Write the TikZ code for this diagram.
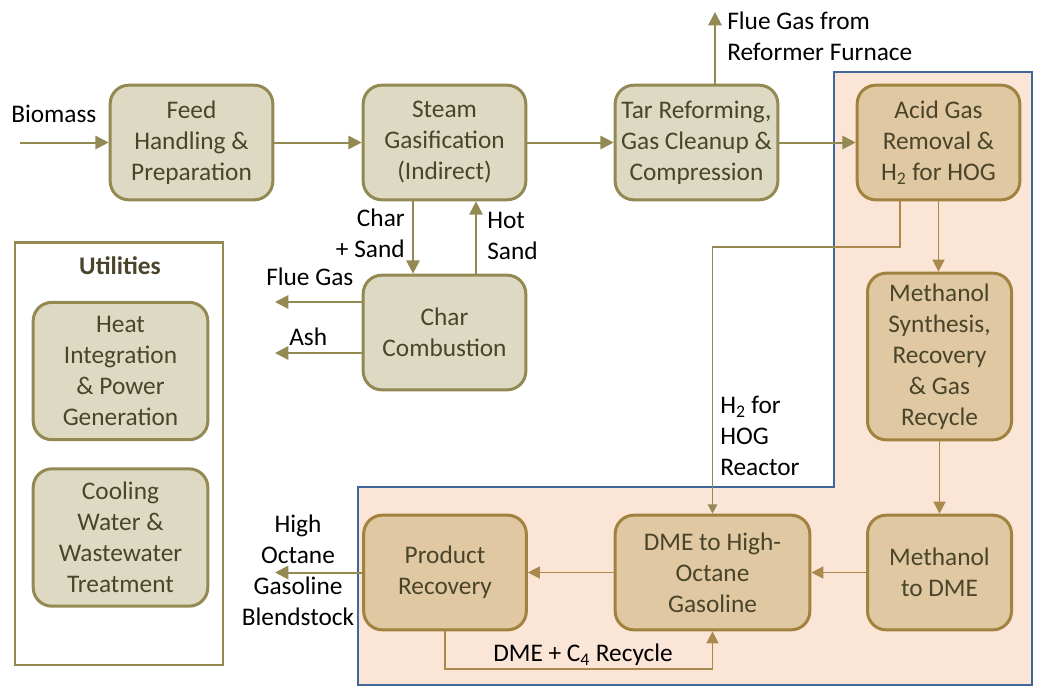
\documentclass[tikz,border=0pt]{standalone}
\usepackage{fontspec}
\setmainfont{Carlito}
\usetikzlibrary{arrows.meta}
\definecolor{boxfill}{HTML}{DDD9C3}
\definecolor{boxline}{HTML}{938953}
\definecolor{dboxfill}{HTML}{DFC8A2}
\definecolor{dboxline}{HTML}{A2823F}
\definecolor{salmon}{HTML}{FBE5D6}
\definecolor{blueline}{HTML}{41679A}
\definecolor{boxtext}{HTML}{4A452A}
\definecolor{arr}{HTML}{938953}
\definecolor{iarr}{HTML}{AA8A4C}
\begin{document}
\begin{tikzpicture}[x=0.75pt,y=-0.75pt,
  proc/.style={draw=boxline, fill=boxfill, line width=2.25pt, rounded corners=14pt,
    align=center, text=boxtext, font=\fontsize{19}{23.25}\selectfont, inner sep=0pt,
    minimum width=122pt, minimum height=86pt},
  dproc/.style={proc, draw=dboxline, fill=dboxfill},
  flow/.style={draw=arr, line width=1.5pt, -{Triangle[length=10pt,width=10pt]}},
  iflow/.style={draw=iarr, line width=1.1pt, -{Triangle[length=9pt,width=9pt]}},
  lbl/.style={font=\fontsize{19}{23.25}\selectfont, inner sep=0pt, text=black}
]
\useasboundingbox (0,0) rectangle (1038,687);
% process region
\path[fill=salmon, draw=blueline, line width=1.5pt]
  (834,72) -- (1032,72) -- (1032,685) -- (358,685) -- (358,487) -- (834,487) -- cycle;
% utilities
\node[draw=boxline, line width=2pt, minimum width=156pt, minimum height=317pt, inner sep=0pt] (util) at (119,453.5) {};
\node[font=\fontsize{19}{23.25}\selectfont\bfseries, text=boxtext] (utiltitle) at (120,266) {Utilities};
\node[proc, minimum width=131pt, minimum height=103pt] (heat) at (120.5,371) {Heat\\Integration\\\& Power\\Generation};
\node[proc, minimum width=131pt, minimum height=103pt] (cool) at (120.5,537.5) {Cooling\\Water \&\\Wastewater\\Treatment};
% main boxes
\node[proc] (feed) at (191.5,142.5) {Feed\\Handling \&\\Preparation};
\node[proc] (gas) at (444.5,142.5) {Steam\\Gasification\\(Indirect)};
\node[proc] (tar) at (696.5,142.5) {Tar Reforming,\\Gas Cleanup \&\\Compression};
\node[dproc] (agr) at (938.5,142.5) {Acid Gas\\Removal \&\\H\textsubscript{2} for HOG};
\node[proc] (char) at (444.5,332.5) {Char\\Combustion};
\node[dproc, minimum width=108pt, minimum height=125pt] (msyn) at (939.5,356.5) {Methanol\\Synthesis,\\Recovery\\\& Gas\\Recycle};
\node[dproc, minimum width=108pt] (mdme) at (939.5,572.5) {Methanol\\to DME};
\node[dproc, minimum width=146pt] (hog) at (712.5,572.5) {DME to High-\\Octane\\Gasoline};
\node[dproc] (prod) at (445,572.5) {Product\\Recovery};
% external points
\coordinate (bioin) at (20,142.5);
\coordinate (flueout) at (715,12);
\coordinate (fgout) at (275,302);
\coordinate (ashout) at (275,353);
\coordinate (hocout) at (275,572.5);
% connectors
\draw[flow] (bioin) -- (feed.west);
\draw[flow] (feed.east) -- (gas.west);
\draw[flow] (gas.east) -- (tar.west);
\draw[flow] (tar.east) -- (agr.west);
\draw[flow] (tar.north -| flueout) -- (flueout);
\draw[flow] (gas.south -| 413,0) -- (char.north -| 413,0);
\draw[flow] (char.north -| 476,0) -- (gas.south -| 476,0);
\draw[flow] (char.west |- fgout) -- (fgout);
\draw[flow] (char.west |- ashout) -- (ashout);
\draw[iflow] (agr.south -| 938.5,0) -- (msyn.north -| 938.5,0);
\draw[iflow] (msyn.south) -- (mdme.north);
\draw[iflow] (mdme.west) -- (hog.east);
\draw[iflow] (hog.west) -- (prod.east);
\draw[flow] (prod.west) -- (hocout);
\draw[draw=iarr, line width=1.1pt] (agr.south -| 900,0) -- (900,247) -- (834,247);
\draw[draw=arr, line width=1.1pt, -{Triangle[length=7pt,width=7pt]}] (834,247) -- (712.5,247) -- (hog.north);
\draw[iflow] (prod.south) -- (445,669) -- (712.5,669) -- (hog.south);
% labels
\node[lbl, anchor=west] (lbio) at (11,114) {Biomass};
\node[lbl, anchor=west, align=left] (lflue) at (727,36) {Flue Gas from\\Reformer Furnace};
\node[lbl, anchor=east, align=right] (lchar) at (405,233) {Char\\+ Sand};
\node[lbl, anchor=west, align=left] (lhot) at (487,236) {Hot\\Sand};
\node[lbl, anchor=west] (lfg) at (266,277) {Flue Gas};
\node[lbl, anchor=west] (lash) at (289,337) {Ash};
\node[lbl, anchor=west, align=left] (lh2) at (720,436) {H\textsubscript{2} for\\HOG\\Reactor};
\node[lbl, align=center] (lhoc) at (298,570) {High\\Octane\\Gasoline\\Blendstock};
\node[lbl] (lrec) at (583,655) {DME + C\textsubscript{4} Recycle};
\end{tikzpicture}
\end{document}
